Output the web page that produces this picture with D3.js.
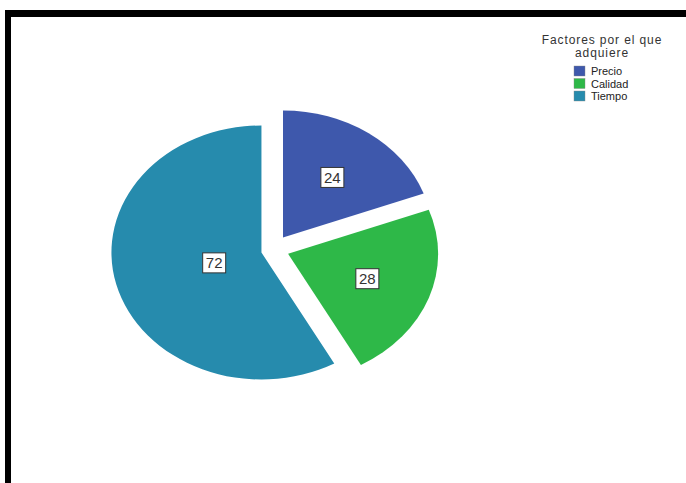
<!DOCTYPE html>
<html>
<head>
<meta charset="utf-8">
<script src="https://cdn.jsdelivr.net/npm/d3@7"></script>
<style>
  html, body { margin: 0; padding: 0; background: #fff; }
  svg { display: block; }
  text { font-family: "Liberation Sans", Arial, sans-serif; }
</style>
</head>
<body>
<svg id="chart" width="686" height="483"></svg>
<script>
// Factores por el que adquiere — counts per factor
const categories = ["Precio", "Calidad", "Tiempo"];
const values = [24, 28, 72];
const colors = ["#3E58AC", "#2EB848", "#268BAD"];
const legendTitle = ["Factores por el que", "adquiere"];

const svg = d3.select("#chart");
const W = 686, H = 483;

// Heavy frame along the top and left edges
svg.append("rect").attr("x", 5).attr("y", 10).attr("width", W - 5).attr("height", 7).attr("fill", "#000");
svg.append("rect").attr("x", 5).attr("y", 10).attr("width", 6).attr("height", H - 10).attr("fill", "#000");

// Elliptical pie: circular arcs scaled horizontally
const cx = 275, cy = 249;
const rx = 150, ry = 127;
const explode = 14;

const pie = d3.pie().sort(null).value(d => d.value);
const data = categories.map((c, i) => ({ name: c, value: values[i], color: colors[i] }));
const arcs = pie(data);

const arc = d3.arc().innerRadius(0).outerRadius(ry);

const slices = svg.append("g");
arcs.forEach(a => {
  const mid = (a.startAngle + a.endAngle) / 2;
  const ox = cx + explode * Math.sin(mid);
  const oy = cy - explode * Math.cos(mid);
  a.ox = ox; a.oy = oy; a.mid = mid;
  slices.append("path")
    .attr("d", arc(a))
    .attr("fill", a.data.color)
    .attr("transform", `translate(${ox},${oy}) scale(${rx / ry},1)`);
});

// Value labels near each sector's area centroid
const labels = svg.append("g");
arcs.forEach(a => {
  const alpha = a.endAngle - a.startAngle;
  const k = 0.92 * 4 * Math.sin(alpha / 2) / (3 * alpha);
  const lx = a.ox + rx * k * Math.sin(a.mid);
  const ly = a.oy - ry * k * Math.cos(a.mid);
  const g = labels.append("g").attr("transform", `translate(${lx},${ly})`);
  g.append("rect")
    .attr("x", -11.5).attr("y", -10).attr("width", 23).attr("height", 20)
    .attr("fill", "#fff").attr("stroke", "#333").attr("stroke-width", 1);
  g.append("text")
    .attr("text-anchor", "middle").attr("dy", "0.36em")
    .attr("font-size", 15).attr("fill", "#333")
    .text(a.data.value);
});

// Legend
const legend = svg.append("g");
legendTitle.forEach((t, i) => {
  legend.append("text")
    .attr("x", 602).attr("y", 44 + i * 12.5)
    .attr("text-anchor", "middle")
    .attr("font-size", 12).attr("letter-spacing", 0.9)
    .attr("fill", "#333")
    .text(t);
});
const rowY = d3.scaleBand().domain(categories).range([66, 103.5]);
categories.forEach((c, i) => {
  const y = rowY(c);
  legend.append("rect")
    .attr("x", 574).attr("y", y).attr("width", 11).attr("height", 10)
    .attr("fill", colors[i]).attr("stroke", "#888").attr("stroke-width", 0.4);
  legend.append("text")
    .attr("x", 591).attr("y", y + 9)
    .attr("font-size", 11).attr("fill", "#222")
    .text(c);
});
</script>
</body>
</html>
